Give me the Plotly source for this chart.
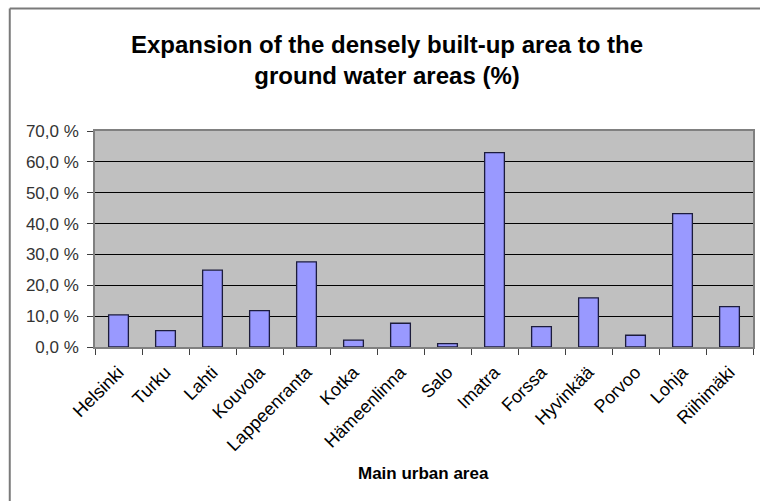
import plotly.graph_objects as go

# Main urban areas and the share (%) of densely built-up area expansion onto ground water areas
cities = ["Helsinki", "Turku", "Lahti", "Kouvola", "Lappeenranta", "Kotka", "Hämeenlinna",
          "Salo", "Imatra", "Forssa", "Hyvinkää", "Porvoo", "Lohja", "Riihimäki"]
expansion_pct = [10.4, 5.3, 24.9, 11.8, 27.6, 2.2, 7.7, 1.1, 63.0, 6.6, 15.9, 3.8, 43.2, 13.1]

y_tickvals = [0, 10, 20, 30, 40, 50, 60, 70]
y_ticktext = ["0,0 %", "10,0 %", "20,0 %", "30,0 %", "40,0 %", "50,0 %", "60,0 %", "70,0 %"]

W, H = 760, 501
ML, MR, MT, MB = 95, 5, 131, 154
pw, ph = W - ML - MR, H - MT - MB


def px_x(x):
    """pixel column -> paper x"""
    return (x - ML) / pw


def px_y(y):
    """pixel row (from top) -> paper y"""
    return (H - MB - y) / ph


fig = go.Figure(
    go.Bar(
        x=cities,
        y=expansion_pct,
        marker=dict(color="#9999FF", line=dict(color="#1c1c3c", width=1.3)),
        hoverinfo="x+y",
    )
)

# outer chart frame (left and top edges visible in the window)
fx, fy = px_x(9.5), px_y(8.5)
fig.add_shape(type="line", xref="paper", yref="paper", x0=fx, x1=2, y0=fy, y1=fy,
              line=dict(color="#7a7a7a", width=2))
fig.add_shape(type="line", xref="paper", yref="paper", x0=fx, x1=fx, y0=fy, y1=-3,
              line=dict(color="#7a7a7a", width=2))

# chart title
fig.add_annotation(
    text="<b>Expansion of the densely built-up area to the<br>ground water areas (%)</b>",
    xref="paper", yref="paper", x=px_x(388), y=px_y(60),
    xanchor="center", yanchor="middle", showarrow=False,
    font=dict(size=24, color="black"),
)

# category axis title
fig.add_annotation(
    text="<b>Main urban area</b>",
    xref="paper", yref="paper", x=px_x(424), y=px_y(474),
    xanchor="center", yanchor="middle", showarrow=False,
    font=dict(size=17, color="black"),
)

fig.update_layout(
    width=W, height=H,
    margin=dict(l=ML, r=MR, t=MT, b=MB),
    paper_bgcolor="white",
    plot_bgcolor="#C0C0C0",
    bargap=0.58,
    showlegend=False,
    font=dict(family="Liberation Sans, Arial, sans-serif", color="black"),
    xaxis=dict(
        tickangle=-45,
        tickfont=dict(size=18, color="black"),
        ticks="outside", tickson="boundaries", ticklen=6, tickcolor="#404040",
        ticklabelstandoff=6,
        showline=True, linecolor="#808080", linewidth=1.5, mirror=True,
        showgrid=False,
    ),
    yaxis=dict(
        range=[0, 70],
        tickvals=y_tickvals,
        ticktext=y_ticktext,
        tickfont=dict(size=17, color="#333333"),
        ticks="outside", ticklen=6, tickcolor="#404040",
        ticklabelstandoff=5,
        showline=True, linecolor="#808080", linewidth=1.5, mirror=True,
        showgrid=True, gridcolor="black", gridwidth=1.3,
        zeroline=False,
    ),
)

fig.write_html("out.html")
